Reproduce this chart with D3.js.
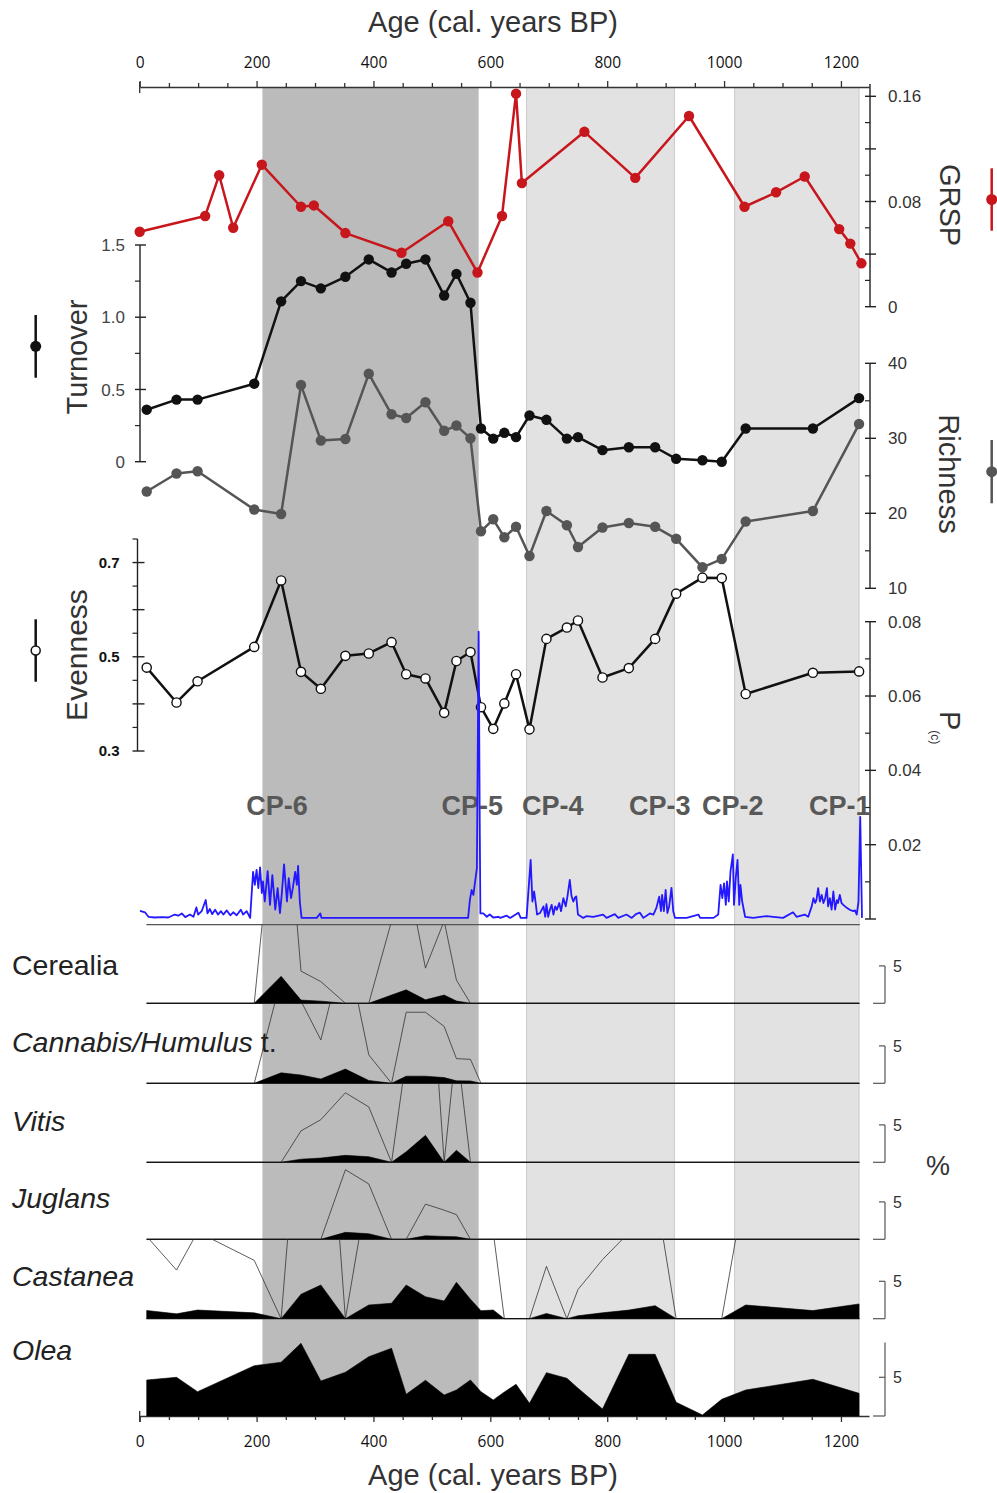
<!DOCTYPE html>
<html>
<head>
<meta charset="utf-8">
<script src="https://cdn.jsdelivr.net/npm/d3@7"></script>
<style>
  body { margin: 0; background: #fff; }
  svg { display: block; font-family: "Liberation Sans", Arial, sans-serif; }
</style>
</head>
<body>
<script>
// ---- data ----
var ageTicks = [0, 200, 400, 600, 800, 1000, 1200];

// zones (cal. years BP)
var zoneStart = [210, 662, 1018];
var zoneEnd = [580, 915, 1231];
var cpLabels = ["CP-6", "CP-5", "CP-4", "CP-3", "CP-2", "CP-1"];
var cpAge = [235, 569, 707, 890, 1015, 1198];

// GRSP
var grspAge = [0, 112, 136, 160, 209, 276, 298, 352, 448, 528, 578, 620, 644, 654, 761, 848, 940, 1035, 1089, 1138, 1197, 1216, 1235];
var grspVal = [0.057, 0.069, 0.100, 0.060, 0.108, 0.076, 0.077, 0.056, 0.041, 0.065, 0.026, 0.069, 0.162, 0.094, 0.133, 0.098, 0.145, 0.076, 0.087, 0.099, 0.059, 0.048, 0.033];

// samples shared by diversity indices and pollen
var sampleAge = [12, 63, 99, 196, 242, 276, 310, 352, 392, 431, 456, 489, 521, 542, 566, 584, 605, 624, 644, 667, 696, 731, 750, 792, 837, 882, 918, 963, 996, 1037, 1152, 1231];
var turnover = [0.36, 0.43, 0.43, 0.54, 1.11, 1.25, 1.20, 1.28, 1.40, 1.31, 1.37, 1.40, 1.15, 1.30, 1.10, 0.23, 0.16, 0.20, 0.17, 0.32, 0.29, 0.16, 0.17, 0.08, 0.10, 0.10, 0.02, 0.01, 0.00, 0.23, 0.23, 0.44];
var richness = [22.9, 25.3, 25.6, 20.5, 19.9, 37.1, 29.7, 29.9, 38.6, 33.2, 32.7, 34.8, 31.0, 31.7, 30.0, 17.6, 19.2, 16.8, 18.2, 14.3, 20.3, 18.4, 15.5, 18.1, 18.7, 18.2, 16.6, 12.8, 13.9, 18.9, 20.3, 31.9];
var evenness = [0.477, 0.403, 0.448, 0.521, 0.662, 0.468, 0.432, 0.502, 0.507, 0.531, 0.463, 0.454, 0.381, 0.491, 0.510, 0.393, 0.347, 0.401, 0.463, 0.346, 0.538, 0.562, 0.577, 0.456, 0.476, 0.538, 0.634, 0.668, 0.667, 0.421, 0.466, 0.469];

// P(c)
var pcAge = [0.5, 9, 15, 26, 38, 49, 60, 66, 72, 78, 86, 92, 97, 100, 106, 113, 116, 120, 124, 129, 134, 139, 143, 149, 155, 160, 166, 173, 177, 183, 189, 194, 197, 200, 203, 206, 209, 211, 214, 219, 223, 227, 232, 236, 240, 243, 247, 252, 255, 259, 262, 266, 269, 271, 274, 277, 303, 309, 311, 391, 477, 562, 565, 568, 571, 574, 577, 580, 582, 583, 588, 594, 599, 605, 614, 617, 628, 634, 648, 652, 662, 669, 672, 675, 678, 680, 685, 691, 694, 696, 699, 702, 705, 708, 711, 714, 718, 721, 725, 729, 732, 736, 739, 742, 745, 747, 750, 759, 765, 776, 793, 799, 813, 819, 833, 842, 850, 856, 862, 873, 879, 884, 889, 892, 894, 897, 900, 903, 906, 910, 913, 916, 936, 956, 959, 982, 990, 994, 997, 1000, 1003, 1005, 1008, 1011, 1015, 1017, 1020, 1023, 1026, 1028, 1031, 1036, 1050, 1073, 1084, 1101, 1118, 1124, 1138, 1144, 1150, 1153, 1156, 1158, 1161, 1164, 1167, 1170, 1173, 1176, 1178, 1181, 1184, 1187, 1190, 1193, 1195, 1198, 1201, 1204, 1210, 1215, 1221, 1224, 1227, 1230, 1233, 1236];
var pcVal = [0.0022, 0.0018, 0.0006, 0.0004, 0.0005, 0.0004, 0.0012, 0.0009, 0.0015, 0.0005, 0.0012, 0.0006, 0.0031, 0.0012, 0.0021, 0.0051, 0.0015, 0.0027, 0.0013, 0.0025, 0.0012, 0.0021, 0.0012, 0.0023, 0.0010, 0.0018, 0.0010, 0.0025, 0.0012, 0.0021, 0.0003, 0.0127, 0.0092, 0.0132, 0.0083, 0.0139, 0.0070, 0.0101, 0.0047, 0.0129, 0.0038, 0.0118, 0.0025, 0.0083, 0.0016, 0.0065, 0.0147, 0.0047, 0.0110, 0.0056, 0.0083, 0.0127, 0.0092, 0.0143, 0.0047, 0.0003, 0.0003, 0.0015, 0.0003, 0.0003, 0.0003, 0.0003, 0.0051, 0.0078, 0.0065, 0.0101, 0.0137, 0.0773, 0.0230, 0.0015, 0.0015, 0.0006, 0.0012, 0.0004, 0.0006, 0.0003, 0.0009, 0.0003, 0.0017, 0.0003, 0.0003, 0.0159, 0.0047, 0.0074, 0.0038, 0.0012, 0.0016, 0.0034, 0.0006, 0.0040, 0.0006, 0.0025, 0.0038, 0.0012, 0.0034, 0.0025, 0.0043, 0.0021, 0.0056, 0.0034, 0.0061, 0.0105, 0.0061, 0.0047, 0.0058, 0.0061, 0.0012, 0.0003, 0.0008, 0.0006, 0.0012, 0.0003, 0.0013, 0.0003, 0.0012, 0.0003, 0.0014, 0.0017, 0.0003, 0.0015, 0.0012, 0.0029, 0.0060, 0.0021, 0.0065, 0.0021, 0.0078, 0.0016, 0.0034, 0.0084, 0.0021, 0.0003, 0.0003, 0.0012, 0.0003, 0.0003, 0.0012, 0.0092, 0.0056, 0.0096, 0.0038, 0.0101, 0.0047, 0.0128, 0.0174, 0.0038, 0.0110, 0.0159, 0.0038, 0.0092, 0.0047, 0.0006, 0.0003, 0.0008, 0.0006, 0.0003, 0.0018, 0.0006, 0.0012, 0.0006, 0.0034, 0.0056, 0.0043, 0.0051, 0.0083, 0.0047, 0.0065, 0.0043, 0.0056, 0.0083, 0.0034, 0.0056, 0.0025, 0.0074, 0.0025, 0.0051, 0.0043, 0.0065, 0.0043, 0.0038, 0.0030, 0.0025, 0.0021, 0.0023, 0.0012, 0.0047, 0.0275, 0.0003];

// pollen percentages at sampleAge
var cerealia = [0, 0, 0, 0, 3.6, 0.43, 0.29, 0, 0, 1.1, 1.8, 0.47, 1.1, 0.31, 0, 0, 0, 0, 0, 0, 0, 0, 0, 0, 0, 0, 0, 0, 0, 0, 0, 0];
var cannabis = [0, 0, 0, 0, 1.4, 1.1, 0.58, 1.9, 0.38, 0, 0.95, 0.95, 0.76, 0.33, 0.32, 0, 0, 0, 0, 0, 0, 0, 0, 0, 0, 0, 0, 0, 0, 0, 0, 0];
var vitis = [0, 0, 0, 0, 0, 0.42, 0.57, 0.93, 0.74, 0, 1.4, 3.6, 0, 1.6, 0, 0, 0, 0, 0, 0, 0, 0, 0, 0, 0, 0, 0, 0, 0, 0, 0, 0];
var juglans = [0, 0, 0, 0, 0, 0, 0, 0.93, 0.74, 0, 0, 0.47, 0.39, 0.33, 0, 0, 0, 0, 0, 0, 0, 0, 0, 0, 0, 0, 0, 0, 0, 0, 0, 0];
var castanea = [1.1, 0.65, 1.16, 0.78, 0, 3.26, 4.5, 0, 1.83, 2.06, 4.5, 2.94, 2.37, 4.87, 2.6, 1.07, 1.16, 0, 0, 0, 0.7, 0, 0.39, 0.79, 1.15, 1.74, 0, 0, 0, 1.83, 1.08, 1.97];
var olea = [4.65, 5.0, 3.14, 6.5, 6.94, 9.39, 4.52, 5.65, 7.66, 8.75, 2.8, 4.61, 2.71, 3.36, 4.65, 3.14, 2.07, 3.1, 4.1, 1.64, 5.6, 4.87, 3.6, 0.9, 7.97, 7.97, 1.77, 0.13, 2.16, 3.36, 4.74, 2.93];
var taxa = ["Cerealia", "Cannabis/Humulus", "Vitis", "Juglans", "Castanea", "Olea"];
var pollen = [cerealia, cannabis, vitis, juglans, castanea, olea];
var exaggeration = 10;

// ---- layout ----
var W = 997, H = 1493;
var svg = d3.select("body").append("svg").attr("width", W).attr("height", H);

var x = d3.scaleLinear().domain([0, 1248]).range([139.7, 869]);
var axTop = 87, axBottom = 1416, rightX = 870;

// zones
zoneStart.forEach(function (s, i) {
  svg.append("rect")
    .attr("x", x(s)).attr("y", axTop)
    .attr("width", x(zoneEnd[i]) - x(s)).attr("height", axBottom - axTop)
    .attr("fill", i === 0 ? "#bbbbbb" : "#e2e2e2");
  if (i > 0) {
    [s, zoneEnd[i]].forEach(function (a) {
      svg.append("line").attr("x1", x(a)).attr("x2", x(a))
        .attr("y1", axTop).attr("y2", axBottom)
        .attr("stroke", "#cacaca").attr("stroke-width", 1);
    });
  }
});

// ---- age axes ----
function ageAxis(yPos, top) {
  var g = svg.append("g").attr("transform", "translate(0," + yPos + ")");
  var major = (top ? d3.axisTop(x) : d3.axisBottom(x))
    .tickValues(ageTicks).tickSize(6).tickSizeOuter(0).tickPadding(top ? 13 : 14)
    .tickFormat(d3.format("d"));
  g.call(major);
  var minor = (top ? d3.axisTop(x) : d3.axisBottom(x))
    .tickValues(d3.range(50, 1250, 50).filter(function (d) { return d % 200 !== 0; }))
    .tickSize(4).tickSizeOuter(0).tickFormat("");
  g.append("g").call(minor).select(".domain").remove();
  g.selectAll("line, path").attr("stroke", "#333").attr("stroke-width", 1.3);
  g.selectAll("text").attr("font-family", "'Open Sans', sans-serif")
    .attr("font-size", 15.5).attr("fill", "#111");
  g.append("line").attr("x1", x(0)).attr("x2", x(0)).attr("y1", -5).attr("y2", 6)
    .attr("stroke", "#333").attr("stroke-width", 1.3);
  return g;
}
ageAxis(axTop, true);
ageAxis(axBottom, false);

svg.append("text").attr("x", 493).attr("y", 32).attr("text-anchor", "middle")
  .attr("font-size", 29).attr("fill", "#333").text("Age (cal. years BP)");
svg.append("text").attr("x", 493).attr("y", 1485).attr("text-anchor", "middle")
  .attr("font-size", 29).attr("fill", "#333").text("Age (cal. years BP)");

// ---- vertical axes ----
function vAxis(scale, xPos, left, majors, minors, labelled, fmt, opts) {
  var g = svg.append("g").attr("transform", "translate(" + xPos + ",0)");
  var ext = opts.extent || scale.range();
  g.append("line").attr("x1", 0).attr("x2", 0).attr("y1", ext[0]).attr("y2", ext[1])
    .attr("stroke", "#222").attr("stroke-width", 1.4);
  g.selectAll(".maj").data(majors).join("line")
    .attr("x1", -5).attr("x2", opts.out || 6)
    .attr("y1", function (d) { return scale(d); }).attr("y2", function (d) { return scale(d); })
    .attr("stroke", "#222").attr("stroke-width", 1.4);
  g.selectAll(".min").data(minors).join("line")
    .attr("x1", -5).attr("x2", 0)
    .attr("y1", function (d) { return scale(d); }).attr("y2", function (d) { return scale(d); })
    .attr("stroke", "#222").attr("stroke-width", 1.2);
  g.selectAll("text").data(labelled).join("text")
    .attr("x", left ? -opts.pad : opts.pad)
    .attr("y", function (d) { return scale(d); }).attr("dy", "0.36em")
    .attr("text-anchor", left ? "end" : "start")
    .attr("font-size", opts.size || 17).attr("font-weight", opts.weight || "normal")
    .attr("fill", opts.color || "#333").text(fmt);
}

var yG = d3.scaleLinear().domain([0, 0.16]).range([306.7, 96.3]);
var yT = d3.scaleLinear().domain([0, 1.5]).range([461.7, 245]);
var yR = d3.scaleLinear().domain([10, 40]).range([588.3, 363.3]);
var yE = d3.scaleLinear().domain([0.3, 0.75]).range([751, 539]);
var yP = d3.scaleLinear().domain([0, 0.08]).range([919, 621.7]);

vAxis(yG, rightX, false, [0, 0.04, 0.08, 0.12, 0.16], [0.02, 0.06, 0.10, 0.14], [0, 0.08, 0.16],
  function (d) { return d === 0 ? "0" : d3.format(".2f")(d); }, { pad: 18, extent: [306.7, 84] });
vAxis(yT, 140, true, [0, 0.5, 1, 1.5], [0.25, 0.75, 1.25], [0, 0.5, 1, 1.5],
  function (d) { return d === 0 ? "0" : d3.format(".1f")(d); }, { pad: 15, color: "#444" });
vAxis(yR, rightX, false, [10, 20, 30, 40], [15, 25, 35], [10, 20, 30, 40],
  d3.format("d"), { pad: 18 });
vAxis(yE, 137.5, true, [0.3, 0.4, 0.5, 0.6, 0.7], [0.35, 0.45, 0.55, 0.65, 0.75], [0.3, 0.5, 0.7],
  d3.format(".1f"), { pad: 18, size: 15, weight: "bold", color: "#111", out: 7 });
vAxis(yP, rightX, false, [0, 0.02, 0.04, 0.06, 0.08], [0.01, 0.03, 0.05, 0.07], [0.02, 0.04, 0.06, 0.08],
  d3.format(".2f"), { pad: 18 });

// axis titles
function vTitle(txt, xPos, yPos, rot, size) {
  return svg.append("text").attr("transform", "translate(" + xPos + "," + yPos + ") rotate(" + rot + ")")
    .attr("text-anchor", "middle").attr("font-size", size || 29).attr("fill", "#333").text(txt);
}
vTitle("Turnover", 87, 357, -90);
vTitle("Evenness", 87, 655, -90, 30);
vTitle("GRSP", 939.5, 205, 90);
vTitle("Richness", 939, 474, 90);
var pt = svg.append("text").attr("transform", "translate(940,711) rotate(90)")
  .attr("font-size", 29).attr("fill", "#333");
pt.append("tspan").text("P");
pt.append("tspan").attr("font-size", 12).attr("dy", 9).text("(c)");

// legend keys
function key(xPos, y0, y1, color, open) {
  svg.append("line").attr("x1", xPos).attr("x2", xPos).attr("y1", y0).attr("y2", y1)
    .attr("stroke", color).attr("stroke-width", 2.5);
  svg.append("circle").attr("cx", xPos).attr("cy", (y0 + y1) / 2).attr("r", open ? 4.5 : 5.5)
    .attr("fill", open ? "#fff" : color).attr("stroke", color).attr("stroke-width", open ? 1.5 : 0);
}
key(35.7, 315, 377.7, "#111", false);
key(35.7, 619.3, 681.7, "#111", true);
key(991.7, 168.3, 230.7, "#c8161d", false);
key(991.7, 440, 503.3, "#555", false);

// ---- curves with markers ----
function series(ages, vals, yScale, color, open) {
  var pts = ages.map(function (a, i) { return [x(a), yScale(vals[i])]; });
  svg.append("path").attr("d", d3.line()(pts)).attr("fill", "none")
    .attr("stroke", color).attr("stroke-width", 2.5).attr("stroke-linejoin", "round");
  svg.append("g").selectAll("circle").data(pts).join("circle")
    .attr("cx", function (d) { return d[0]; }).attr("cy", function (d) { return d[1]; })
    .attr("r", open ? 4.6 : 5.2)
    .attr("fill", open ? "#fff" : color)
    .attr("stroke", color).attr("stroke-width", open ? 1.4 : 0);
}
series(grspAge, grspVal, yG, "#c8161d", false);
series(sampleAge, richness, yR, "#555", false);
series(sampleAge, turnover, yT, "#111", false);
series(sampleAge, evenness, yE, "#111", true);

// CP labels
svg.append("g").selectAll("text").data(cpLabels).join("text")
  .attr("x", function (d, i) { return x(cpAge[i]); }).attr("y", 815)
  .attr("text-anchor", "middle").attr("font-size", 27).attr("font-weight", "bold")
  .attr("fill", "#585858").text(function (d) { return d; });

// P(c) curve
svg.append("path")
  .attr("d", d3.line().x(function (d, i) { return x(pcAge[i]); }).y(function (d) { return yP(d); })(pcVal))
  .attr("fill", "none").attr("stroke", "#2318ff").attr("stroke-width", 1.8).attr("stroke-linejoin", "round");

// ---- pollen panels ----
var panelBase = [1003.3, 1083.3, 1162.3, 1239.3, 1318.7, 1416];
var panelTop = [924.7, 1003.3, 1083.3, 1162.3, 1239.3, 1318.7];
var labelY = [975, 1052, 1131, 1208, 1286, 1360];
var lineL = x(sampleAge[0]) - 0.3, lineR = x(sampleAge[sampleAge.length - 1]) + 0.7;

svg.append("line").attr("x1", lineL).attr("x2", lineR).attr("y1", 924.7).attr("y2", 924.7)
  .attr("stroke", "#555").attr("stroke-width", 1.2);

pollen.forEach(function (vals, k) {
  var base = panelBase[k], top = panelTop[k];
  var olive = k === pollen.length - 1;
  var yS = d3.scaleLinear().domain([0, 5]).range([base, base - (olive ? 38.7 : 37.4)]);
  var id = "clip" + k;
  svg.append("clipPath").attr("id", id).append("rect")
    .attr("x", 0).attr("y", top).attr("width", W).attr("height", base - top);

  if (!olive) {
    svg.append("line").attr("x1", lineL).attr("x2", lineR).attr("y1", base).attr("y2", base)
      .attr("stroke", "#555").attr("stroke-width", 1.2);
  }
  // exaggeration curve (x10), cut at the panel top
  if (!olive) {
    svg.append("path").attr("clip-path", "url(#" + id + ")")
      .attr("d", d3.line().x(function (d, i) { return x(sampleAge[i]); })
        .y(function (d) { return yS(d * exaggeration); })(vals))
      .attr("fill", "none").attr("stroke", "#333").attr("stroke-width", 0.8);
  }
  // silhouette
  svg.append("path")
    .attr("d", d3.area().x(function (d, i) { return x(sampleAge[i]); })
      .y0(base).y1(function (d) { return yS(d); })(vals))
    .attr("fill", "#000").attr("stroke", "#000").attr("stroke-width", 0.6);

  // scale bracket
  var bx = 885;
  var g = svg.append("g").attr("stroke", "#555").attr("stroke-width", 1.2).attr("fill", "none");
  g.append("line").attr("x1", bx).attr("x2", bx).attr("y1", olive ? yS(9.5) : yS(5)).attr("y2", base);
  g.append("line").attr("x1", bx - 6).attr("x2", bx).attr("y1", yS(5)).attr("y2", yS(5));
  g.append("line").attr("x1", bx - 12).attr("x2", bx).attr("y1", base).attr("y2", base);
  svg.append("text").attr("x", 893).attr("y", yS(5)).attr("dy", "0.36em")
    .attr("font-size", 16).attr("fill", "#333").text("5");

  // taxon label
  var t = svg.append("text").attr("x", 12).attr("y", labelY[k])
    .attr("font-size", 28.5).attr("fill", "#222");
  t.append("tspan").attr("font-style", k === 0 ? "normal" : "italic").text(taxa[k]);
  if (k === 1) t.append("tspan").text(" t.");
});

svg.append("text").attr("x", 926).attr("y", 1175).attr("font-size", 27).attr("fill", "#333").text("%");
</script>
</body>
</html>
